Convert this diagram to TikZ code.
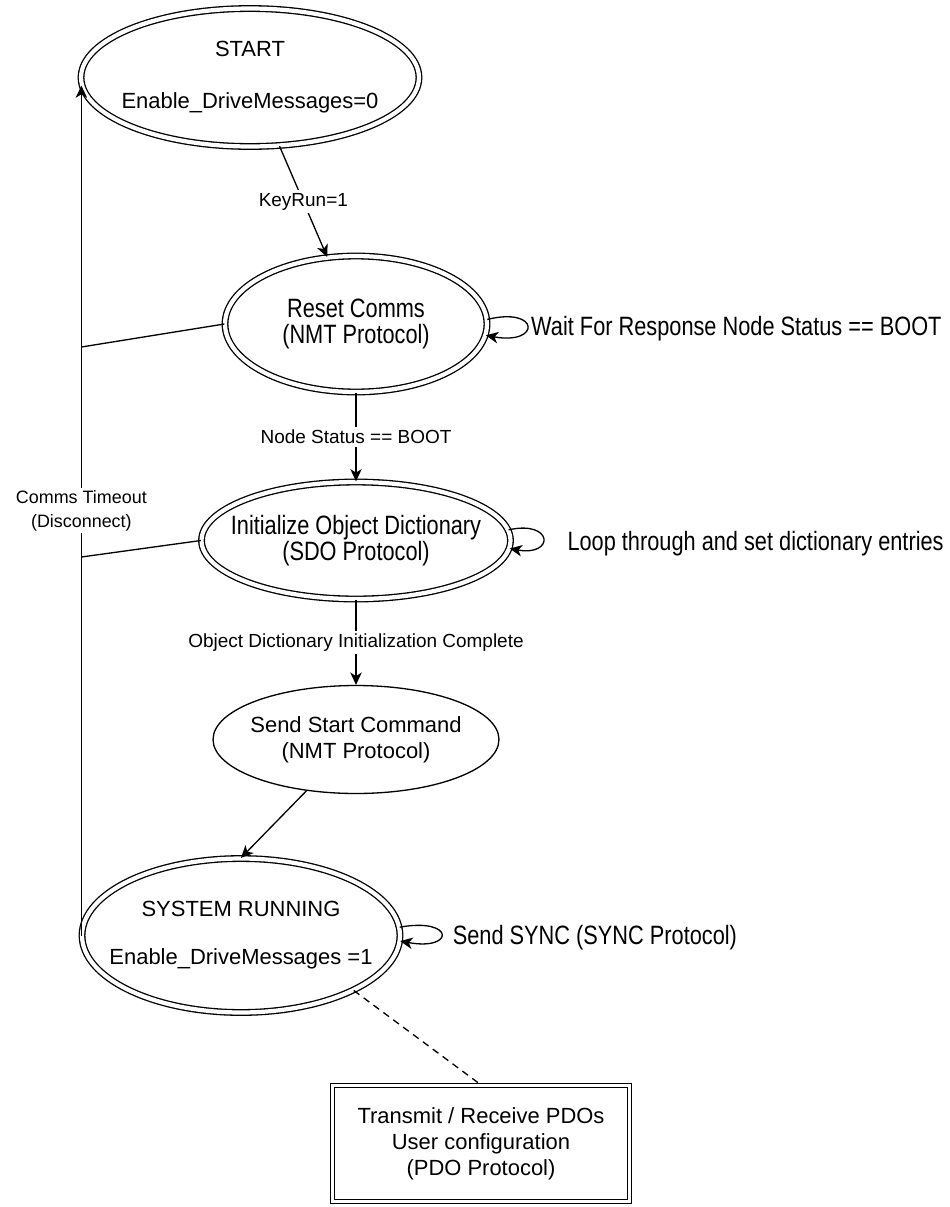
\documentclass[tikz,border=0pt]{standalone}
\usepackage{fontspec}
\setmainfont{Liberation Sans}
\newfontfamily\narrowsf[FakeStretch=0.82]{Liberation Sans}
\usetikzlibrary{arrows.meta,shapes.geometric}
\newcommand{\stsize}{\fontsize{12.5}{14.8}\selectfont}
\newcommand{\nrsize}{\narrowsf\fontsize{15.1}{14.8}\selectfont}
\newcommand{\lbsize}{\fontsize{10.8}{13}\selectfont}

\begin{document}
\begin{tikzpicture}[
  x=0.02cm, y=-0.02cm,
  >={Stealth[length=7pt,width=6.5pt,inset=2pt]},
  state/.style={ellipse, draw=black, line width=.75pt, inner sep=-1.5cm, align=center, font=\stsize},
  dstate/.style={state, double, double distance=2.4pt},
  lbl/.style={fill=white, inner sep=1.5pt, font=\lbsize, align=center},
  side/.style={anchor=west, inner sep=0pt, font=\nrsize},
  arr/.style={->, line width=.75pt, draw=black}
]
\useasboundingbox (0,0) rectangle (950,1207);
\node[dstate, minimum width=6.76cm, minimum height=2.76cm] (start) at (250,77.5) {START\\[14.8pt]Enable\_DriveMessages=0};
\node[dstate, minimum width=5.24cm, minimum height=2.72cm, font=\nrsize] (reset) at (356,324) {Reset Comms\\(NMT Protocol)};
\node[dstate, minimum width=6.18cm, minimum height=2.34cm, font=\nrsize] (init) at (356,540.5) {Initialize Object Dictionary\\(SDO Protocol)};
\node[state, minimum width=5.72cm, minimum height=2.16cm] (send) at (356,739.5) {Send Start Command\\(NMT Protocol)};
\node[dstate, minimum width=6.36cm, minimum height=3.08cm] (run) at (241,935.5) {SYSTEM RUNNING\\[12.5pt]Enable\_DriveMessages =1};
\node[draw=black, double, double distance=1.5pt, line width=.75pt, minimum width=5.94cm, minimum height=2.32cm, align=center, font=\stsize] (pdo) at (481,1143.5) {Transmit / Receive PDOs\\User configuration\\(PDO Protocol)};
\coordinate (jr) at (run.west |- 0,347);
\coordinate (ji) at (run.west |- 0,557);
\draw[arr] (start) -- node[lbl] {KeyRun=1} (reset);
\draw[arr] (reset) -- node[lbl] {Node Status == BOOT} (init);
\draw[arr] (init) -- node[lbl] {Object Dictionary Initialization Complete} (send);
\draw[arr] (send.226) -- (run.north);
\draw[line width=.75pt, dash pattern=on 4pt off 3pt] (run.-26) -- (pdo.north);
\draw[arr] (run.west) -- node[lbl, font=\fontsize{10.2}{13.5}\selectfont] {Comms Timeout\\(Disconnect)} ([yshift=-0.16cm]run.west |- start.west);
\draw[line width=.75pt] (reset.west) -- (jr);
\draw[line width=.75pt] (init.west) -- (ji);
\draw[arr] (reset.2) .. controls +(53,-13) and +(55,10) .. node[side, xshift=0.07cm, yshift=-0.04cm] {Wait For Response Node Status == BOOT} (reset.-5);
\draw[arr] (init.4) .. controls +(45,-10) and +(45,8) .. node[side, xshift=0.48cm, yshift=-0.1cm] {Loop through and set dictionary entries} (init.-3);
\draw[arr] (run.3) .. controls +(55,-10) and +(55,10) .. node[side, xshift=0.22cm, yshift=-0.06cm] {Send SYNC (SYNC Protocol)} (run.-2);
\end{tikzpicture}
\end{document}
